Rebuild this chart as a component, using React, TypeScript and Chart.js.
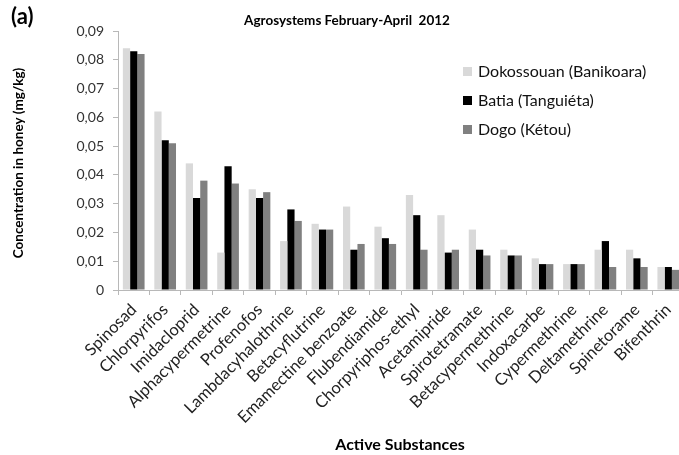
import React, { useEffect, useRef } from "react";
import { Chart, registerables } from "chart.js";

Chart.register(...registerables);

// Active substances measured in honey
const substances = [
  "Spinosad",
  "Chlorpyrifos",
  "Imidacloprid",
  "Alphacypermetrine",
  "Profenofos",
  "Lambdacyhalothrine",
  "Betacyflutrine",
  "Emamectine benzoate",
  "Flubendiamide",
  "Chorpyriphos-ethyl",
  "Acetamipride",
  "Spirotetramate",
  "Betacypermethrine",
  "Indoxacarbe",
  "Cypermethrine",
  "Deltamethrine",
  "Spinetorame",
  "Bifenthrin",
];

// Concentrations (mg/kg) per site
const dokossouan = [0.084, 0.062, 0.044, 0.013, 0.035, 0.017, 0.023, 0.029, 0.022, 0.033, 0.026, 0.021, 0.014, 0.011, 0.009, 0.014, 0.014, 0.008];
const batia = [0.083, 0.052, 0.032, 0.043, 0.032, 0.028, 0.021, 0.014, 0.018, 0.026, 0.013, 0.014, 0.012, 0.009, 0.009, 0.017, 0.011, 0.008];
const dogo = [0.082, 0.051, 0.038, 0.037, 0.034, 0.024, 0.021, 0.016, 0.016, 0.014, 0.014, 0.012, 0.012, 0.009, 0.009, 0.008, 0.008, 0.007];

const seriesNames = ["Dokossouan (Banikoara)", "Batia (Tanguiéta)", "Dogo (Kétou)"];
const seriesColors = ["#d9d9d9", "#000000", "#808080"];

const yMax = 0.09;
const yStep = 0.01;

const chartTitle = "Agrosystems February-April  2012";
const panelTag = "(a)";
const yTitle = "Concentration in honey (mg/kg)";
const xTitle = "Active Substances";

const FONT = "Lato, 'Open Sans', sans-serif";

const annotations = {
  id: "annotations",
  afterDraw(chart: Chart) {
    const ctx = chart.ctx;
    ctx.save();
    ctx.fillStyle = "#000";
    ctx.textBaseline = "middle";

    // panel tag
    ctx.font = `bold 22px ${FONT}`;
    ctx.textAlign = "left";
    ctx.fillText(panelTag, 11, 17);

    // title
    ctx.font = `bold 13.5px ${FONT}`;
    ctx.textAlign = "center";
    ctx.fillText(chartTitle, 347, 21);

    // x axis title
    ctx.font = `bold 16px ${FONT}`;
    ctx.fillText(xTitle, 400, 445);

    // y axis title
    ctx.save();
    ctx.translate(19, 163);
    ctx.rotate(-Math.PI / 2);
    ctx.font = `bold 13.5px ${FONT}`;
    ctx.fillText(yTitle, 0, 0);
    ctx.restore();

    // legend
    ctx.font = `16px ${FONT}`;
    ctx.textAlign = "left";
    seriesNames.forEach((name, i) => {
      const cy = 71 + i * 29;
      ctx.fillStyle = seriesColors[i];
      ctx.fillRect(463, cy - 4, 9, 9);
      ctx.fillStyle = "#111";
      ctx.fillText(name, 478, cy + 1);
    });
    ctx.restore();
  },
};

export default function App() {
  const canvasRef = useRef<HTMLCanvasElement | null>(null);

  useEffect(() => {
    if (!canvasRef.current) return;
    const chart = new Chart(canvasRef.current, {
      type: "bar",
      data: {
        labels: substances,
        datasets: [dokossouan, batia, dogo].map((values, i) => ({
          label: seriesNames[i],
          data: values,
          backgroundColor: seriesColors[i],
          borderWidth: 0,
          categoryPercentage: 0.69,
          barPercentage: 1.0,
        })),
      },
      options: {
        responsive: false,
        animation: false,
        layout: { padding: { left: 0, top: 31, right: 16, bottom: 0 } },
        plugins: {
          legend: { display: false },
          title: { display: false },
          tooltip: { enabled: false },
        },
        scales: {
          x: {
            afterFit: (scale: any) => {
              scale.height = 165;
            },
            grid: {
              display: true,
              drawOnChartArea: false,
              drawTicks: true,
              tickLength: 5,
              color: "#b8b8b8",
              offset: true,
            },
            border: { color: "#b8b8b8" },
            ticks: {
              autoSkip: false,
              minRotation: 45,
              maxRotation: 45,
              padding: 5,
              color: "#222",
              font: { family: FONT, size: 16.5 },
            },
          },
          y: {
            min: 0,
            max: yMax,
            afterFit: (scale: any) => {
              scale.width = 118;
            },
            grid: {
              display: true,
              drawOnChartArea: false,
              drawTicks: true,
              tickLength: 5,
              color: "#b8b8b8",
            },
            border: { color: "#b8b8b8" },
            ticks: {
              stepSize: yStep,
              padding: 9,
              color: "#333",
              font: { family: FONT, size: 14 },
              callback: (v: any) => (Number(v) === 0 ? "0" : Number(v).toFixed(2).replace(".", ",")),
            },
          },
        },
      },
      plugins: [annotations],
    });
    return () => chart.destroy();
  }, []);

  return (
    <div
      style={{
        position: "absolute",
        left: 0,
        top: 0,
        width: 679,
        height: 455,
        overflow: "hidden",
        background: "#fff",
      }}
    >
      <canvas ref={canvasRef} width={700} height={455} style={{ display: "block" }} />
    </div>
  );
}
